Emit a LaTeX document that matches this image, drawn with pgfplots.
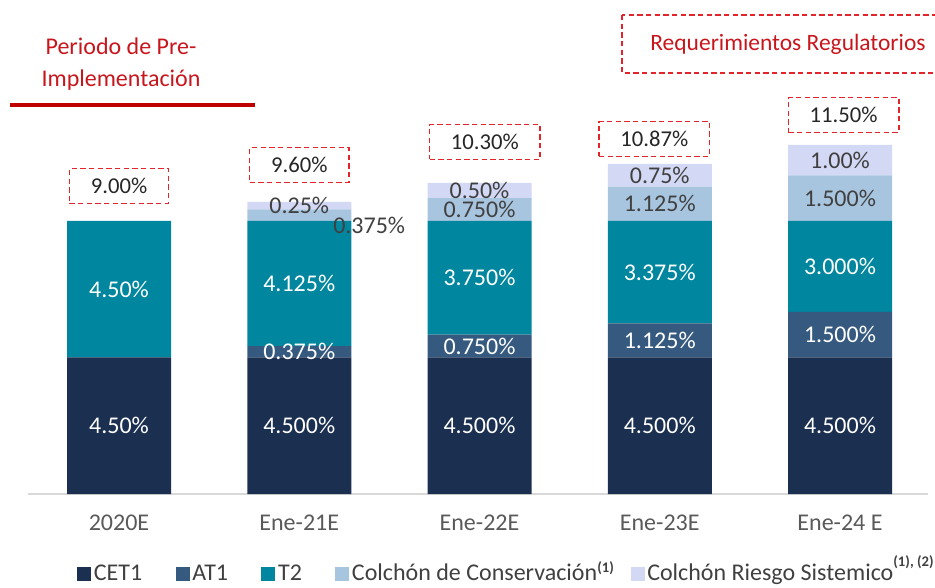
\documentclass[border=0pt]{standalone}
\usepackage{fontspec}
\setmainfont{Carlito}
\usepackage{pgfplots}
\usepackage{pgfplotstable}
\pgfplotsset{compat=1.18}
\definecolor{cet}{HTML}{1B2F51}
\definecolor{atone}{HTML}{365A7F}
\definecolor{ttwo}{HTML}{00869E}
\definecolor{cons}{HTML}{A8C5E0}
\definecolor{sist}{HTML}{D3D8F4}
\definecolor{dred}{HTML}{E3242B}
\definecolor{tred}{HTML}{C8161D}
\definecolor{lred}{HTML}{C00000}
\definecolor{lbl}{HTML}{404040}
\definecolor{tickc}{HTML}{595959}
\definecolor{axisgray}{HTML}{D9D9D9}

\pgfplotstableread{
x cet1 at1 t2 cons sist
0 4.5 0     4.5   0     0
1 4.5 0.375 4.125 0.375 0.25
2 4.5 0.75  3.75  0.75  0.5
3 4.5 1.125 3.375 1.125 0.75
4 4.5 1.5   3.0   1.5   1.0
}\datatable

\pgfplotsset{
  common/.style={
    at={(21pt,69.75pt)}, anchor=south west,
    x=135.1875pt, y=22.7625pt,
    xmin=-0.5049, xmax=4.4882, ymin=0, ymax=16.277,
    clip=false,
  },
  lab/.style={draw=none, mark=none, nodes near coords, point meta=explicit symbolic,
    every node near coord/.style={anchor=center, inner sep=0pt, text=#1, font=\fontsize{18}{20}\selectfont}},
}
\tikzset{
  totbox/.style={draw=dred, line width=1.1pt, dash pattern=on 4pt off 2.5pt, text=black!85,
    font=\fontsize{17}{20}\selectfont, inner xsep=16pt, minimum height=26pt},
}

\begin{document}
\begin{tikzpicture}[x=0.75pt,y=0.75pt]
\useasboundingbox (0,0) rectangle (935,587);
\begin{axis}[
  common,
  ybar stacked, bar width=78pt,
  axis x line*=bottom, axis y line=none,
  x axis line style={draw=axisgray, line width=1pt},
  xtick={0,1,2,3,4},
  xticklabels={2020E,Ene-21E,Ene-22E,Ene-23E,Ene-24 E},
  major tick length=0pt,
  xticklabel style={anchor=center, yshift=-21.75pt, font=\fontsize{18}{20}\selectfont, text=tickc},
  legend image code/.code={\fill[#1] (0pt,-1pt) rectangle (10.5pt,9.5pt);},
  legend columns=-1,
  legend style={at={(0.0544,-0.162)}, anchor=west, draw=none, fill=none, inner sep=0pt,
    font=\fontsize{18}{20}\selectfont, text=lbl,
    nodes={inner xsep=2pt, inner ysep=0pt, text height=12pt, text depth=3pt, anchor=base},
    /tikz/every even column/.append style={column sep=23pt}},
]
\addplot[fill=cet, draw=none] table[x=x,y=cet1]{\datatable};
\addlegendentry{CET1}
\addplot[fill=atone, draw=none] table[x=x,y=at1]{\datatable};
\addlegendentry{AT1}
\addplot[fill=ttwo, draw=none] table[x=x,y=t2]{\datatable};
\addlegendentry{T2}
\addplot[fill=cons, draw=none] table[x=x,y=cons]{\datatable};
\addlegendentry{Colchón de Conservación\rlap{\raisebox{6pt}{\fontsize{11}{11}\selectfont\bfseries (1)}}}
\addplot[fill=sist, draw=none] table[x=x,y=sist]{\datatable};
\addlegendentry{Colchón Riesgo Sistemico\rlap{\raisebox{10pt}{\fontsize{11}{11}\selectfont\bfseries (1), (2)}}}
\end{axis}

\begin{axis}[common, hide axis]
% segment labels at segment mid-heights (white on dark segments)
\addplot[lab=white] coordinates {
 (0,2.25) [4.50\%] (1,2.25) [4.500\%] (2,2.25) [4.500\%] (3,2.25) [4.500\%] (4,2.25) [4.500\%]
 (1,4.6875) [0.375\%] (2,4.875) [0.750\%] (3,5.0625) [1.125\%] (4,5.25) [1.500\%]
 (0,6.75) [4.50\%] (1,6.9375) [4.125\%] (2,7.125) [3.750\%] (3,7.3125) [3.375\%] (4,7.5) [3.000\%]
};
% labels on light segments
\addplot[lab=lbl] coordinates {
 (1.388,8.8415) [0.375\%] (2,9.375) [0.750\%] (3,9.5625) [1.125\%] (4,9.75) [1.500\%]
 (1,9.5) [0.25\%] (2,10.0) [0.50\%] (3,10.5) [0.75\%] (4,11.0) [1.00\%]
};
\node[totbox] at (0,10.15) {9.00\%};
\node[totbox] at (1,10.84) {9.60\%};
\node[totbox] at (2.03,11.60) {10.30\%};
\node[totbox] at (2.97,11.70) {10.87\%};
\node[totbox] at (4.02,12.49) {11.50\%};
\end{axis}

\node[text=tred, font=\fontsize{18}{24}\selectfont, align=center] at (121,523) {Periodo de Pre-\\Implementación};
\draw[lred, line width=3pt] (10,482) -- (255,482);
\draw[dred, line width=1.1pt, dash pattern=on 4pt off 2.5pt] (622,572) rectangle (960,514);
\node[text=tred, font=\fontsize{17.6}{20}\selectfont] at (788,543) {Requerimientos Regulatorios};
\end{tikzpicture}
\end{document}
